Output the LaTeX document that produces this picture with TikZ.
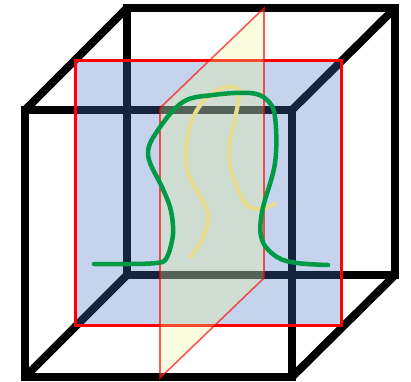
\documentclass[tikz,border=0pt]{standalone}
\usepackage{xcolor}
\usepackage{tikz}
\definecolor{CubeBlack}{HTML}{000000}
\definecolor{SliceBlue}{HTML}{4472C4}
\definecolor{SliceRed}{HTML}{FF0000}
\definecolor{PlaneYellow}{HTML}{EBF596}
\definecolor{CurveGreen}{HTML}{009A46}
\definecolor{CurveGold}{HTML}{E8DC90}
\tikzset{
  cubeedge/.style={draw=CubeBlack,line width=0.08cm,line join=miter},
  curveline/.style={line cap=round,line join=round,smooth,tension=0.6},
}

\begin{document}
\begin{tikzpicture}[x=1cm,y=1cm]
\path[use as bounding box] (0,0) rectangle (4.11,3.81);
% cube
\draw[cubeedge] (0.25,0.04) rectangle (2.92,2.71);
\draw[cubeedge] (1.27,1.06) rectangle (3.95,3.73);
\draw[cubeedge] (0.25,2.71) -- (1.27,3.73);
\draw[cubeedge] (2.92,2.71) -- (3.95,3.73);
\draw[cubeedge] (0.25,0.04) -- (1.27,1.06);
\draw[cubeedge] (2.92,0.04) -- (3.95,1.06);
% blue slice
\fill[SliceBlue,opacity=0.31] (0.75,0.56) rectangle (3.41,3.20);
\draw[SliceRed,line width=0.03cm] (0.75,0.56) rectangle (3.41,3.20);
% yellow plane
\fill[PlaneYellow,opacity=0.3] (1.60,0.03) -- (2.64,1.03) -- (2.64,3.73) -- (1.60,2.73) -- cycle;
\draw[SliceRed,opacity=0.65,line width=0.016cm] (1.60,0.03) -- (2.64,1.03) -- (2.64,3.73) -- (1.60,2.73) -- cycle;
% curves
\draw[CurveGold,line width=0.042cm,curveline] plot coordinates {(1.91,1.24) (2.05,1.48) (2.07,1.71) (1.88,2.08) (1.87,2.41) (1.97,2.71) (2.17,2.91) (2.37,2.93) (2.38,2.78) (2.29,2.24) (2.43,1.81) (2.58,1.72) (2.75,1.77)};
\draw[CurveGreen,line width=0.045cm,curveline] plot coordinates {(0.94,1.17) (1.30,1.17) (1.56,1.18) (1.66,1.22) (1.72,1.40) (1.73,1.55) (1.70,1.74) (1.62,1.94) (1.48,2.26) (1.58,2.51) (1.83,2.79) (2.13,2.86) (2.50,2.88) (2.67,2.81) (2.75,2.64) (2.75,2.18) (2.62,1.69) (2.62,1.41) (2.77,1.24) (2.97,1.18) (3.28,1.16)};
\end{tikzpicture}
\end{document}
